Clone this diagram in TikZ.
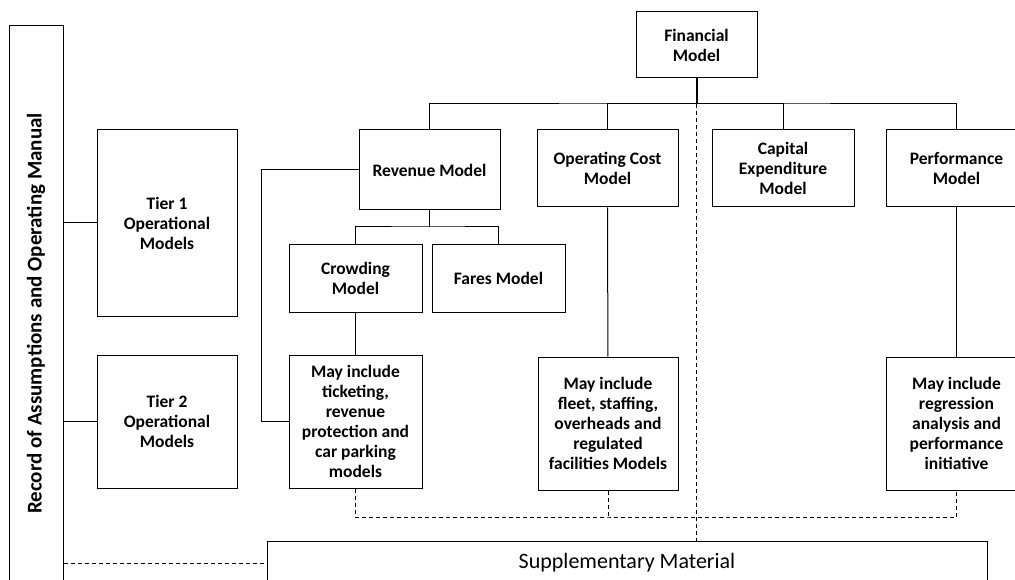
\documentclass[tikz,border=0pt]{standalone}
\usepackage{fontspec}
\setmainfont{Carlito}

\begin{document}
\begin{tikzpicture}[x=1pt,y=-1pt,
    box/.style={draw, line width=1pt, rectangle, align=center, inner sep=2pt,
                font=\bfseries\fontsize{17.5}{20}\selectfont},
    link/.style={line width=1pt},
    dashlink/.style={line width=1pt, dash pattern=on 4pt off 3pt}]
            \useasboundingbox (0,0) rectangle (1015,580);

            %record box, cut at the bottom of the page
            \node[box, rotate=90, minimum width=575, minimum height=54,
                  font=\bfseries\fontsize{21}{24}\selectfont] (manual) at (36,313.5)
                  {Record of Assumptions and Operating Manual};
            \node[box, minimum width=140, minimum height=186] (tierone) at (167,223) {Tier 1\\Operational\\Models};
            \node[box, minimum width=140, minimum height=133] (tiertwo) at (167,421.5) {Tier 2\\Operational\\Models};

            %top level
            \node[box, minimum width=121, minimum height=66] (fin) at (696.5,45) {Financial\\Model};
            \node[box, minimum width=141, minimum height=80] (revenue) at (429.5,170) {Revenue Model};
            \node[box, minimum width=141, minimum height=77] (opcost) at (607.5,168.5) {Operating Cost\\Model};
            \node[box, minimum width=142, minimum height=77] (capex) at (783,168.5) {Capital\\Expenditure\\Model};
            \node[box, minimum width=141, minimum height=77] (perf) at (956.5,168.5) {Performance\\Model};

            \node[box, minimum width=133, minimum height=67] (crowding) at (355.5,278.5) {Crowding\\Model};
            \node[box, minimum width=133, minimum height=67] (fares) at (498.5,278.5) {Fares Model};

            \node[box, minimum width=133, minimum height=133] (revinc) at (355.5,421.5)
                  {May include\\ticketing,\\revenue\\protection and\\car parking\\models};
            \node[box, minimum width=140, minimum height=133] (opinc) at (608,423.5)
                  {May include\\fleet, staffing,\\overheads and\\regulated\\facilities Models};
            \node[box, minimum width=141, minimum height=133] (perfinc) at (956.5,423.5)
                  {May include\\regression\\analysis and\\performance\\initiative};

            \node[draw, line width=1pt, minimum width=720, minimum height=44,
                  font=\fontsize{22}{26}\selectfont] (supp) at (627,563) {Supplementary Material};

            \coordinate (bus) at (696.5,104);
            \coordinate (revbus) at (429.5,227);
            \coordinate (bracket) at (261,170);
            \coordinate (lowbus) at (608,517);

            \draw[line width=2pt] (fin) -- (bus);
            \draw[link] (revenue) |- (bus) -| (perf);
            \draw[link] (opcost) |- (bus);
            \draw[link] (capex) |- (bus);

            \draw[link] (revenue) -- (revbus);
            \draw[link] (crowding) |- (revbus) -| (fares);
            \draw[link] (crowding) -- (revinc);
            \draw[link] (revenue) -- (bracket) |- (revinc);
            \draw[link] (opcost) -- (opinc);
            \draw[link] (perf) -- (perfinc);

            \draw[link] (manual.south |- tierone) -- (tierone);
            \draw[link] (manual.south |- tiertwo) -- (tiertwo);

            \draw[dashlink] (revinc) |- (lowbus) -| (perfinc);
            \draw[dashlink] (opinc) -- (lowbus);
            \draw[dashlink] (bus) -- (bus |- supp.north);
            \draw[dashlink] (manual.south |- supp.west) -- (supp.west);
        \end{tikzpicture}
\end{document}
